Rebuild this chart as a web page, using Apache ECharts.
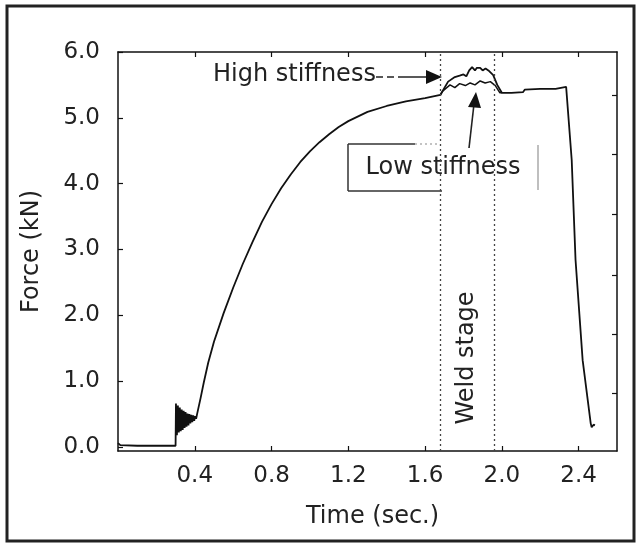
<!DOCTYPE html>
<html>
<head>
<meta charset="utf-8">
<script src="https://cdn.jsdelivr.net/npm/echarts@6/dist/echarts.min.js"></script>
<style>
html,body{margin:0;padding:0;background:#fff;}
#chart{width:637px;height:544px;}
</style>
</head>
<body>
<div id="chart"></div>
<script>
// ---- data ----
var time = [0, 0.005, 0.012, 0.1, 0.2, 0.3,
  0.302, 0.307, 0.312, 0.317, 0.322, 0.327, 0.332, 0.337, 0.342, 0.347, 0.352, 0.357, 0.362, 0.367, 0.372, 0.377, 0.382, 0.387, 0.392, 0.397, 0.402, 0.407, 0.412,
  0.43, 0.447, 0.47, 0.50, 0.55, 0.60, 0.65, 0.70, 0.75, 0.80, 0.85, 0.90, 0.95, 1.00, 1.05, 1.10, 1.15, 1.20, 1.30, 1.40, 1.50, 1.60, 1.68,
  1.69, 1.72, 1.755, 1.78, 1.80, 1.815, 1.83, 1.845, 1.86, 1.87, 1.887, 1.90, 1.915, 1.93, 1.955, 1.976, 2.00,
  2.05, 2.11, 2.12, 2.20, 2.28, 2.29, 2.335, 2.345, 2.364, 2.384, 2.421, 2.463, 2.468, 2.478, 2.485];
var forceHigh = [0.06, 0.08, 0.03, 0.02, 0.02, 0.02,
  0.66, 0.18, 0.63, 0.22, 0.60, 0.24, 0.57, 0.26, 0.55, 0.29, 0.53, 0.31, 0.51, 0.33, 0.50, 0.36, 0.49, 0.38, 0.48, 0.40, 0.47, 0.43, 0.50,
  0.74, 0.98, 1.28, 1.60, 2.03, 2.42, 2.78, 3.11, 3.42, 3.69, 3.93, 4.14, 4.33, 4.49, 4.63, 4.75, 4.86, 4.95, 5.09, 5.18, 5.25, 5.30, 5.35,
  5.38, 5.55, 5.62, 5.64, 5.66, 5.63, 5.72, 5.77, 5.72, 5.76, 5.76, 5.72, 5.75, 5.72, 5.65, 5.50, 5.38,
  5.38, 5.39, 5.43, 5.44, 5.44, 5.47, 5.47, 5.44, 4.36, 2.84, 1.32, 0.36, 0.30, 0.34, 0.33];
var lowTime  = [1.68, 1.69, 1.73, 1.755, 1.78, 1.81, 1.835, 1.86, 1.887, 1.913, 1.94, 1.966, 1.99, 2.00];
var forceLow = [5.35, 5.40, 5.50, 5.46, 5.52, 5.49, 5.53, 5.50, 5.56, 5.53, 5.55, 5.49, 5.38, 5.38];
var weldStage = [1.68, 1.955];
var xTicks = [0.4, 0.8, 1.2, 1.6, 2.0, 2.4];
var yTicks = [0, 1, 2, 3, 4, 5, 6];
var rightTicks = [0.82, 1.72, 2.61, 3.54, 4.45, 5.35];

function pairs(xs, ys){ return xs.map(function(x,i){ return [x, ys[i]]; }); }

var FONT = 'DejaVu Sans';
var chart = echarts.init(document.getElementById('chart'), null, {renderer:'canvas'});
var axisLine = {show:true, onZero:false, lineStyle:{color:'#111', width:1.5}};
var option = {
  animation:false,
  backgroundColor:'#fff',
  grid:{left:118, top:52, right:20, bottom:93},
  xAxis:[{
    type:'value', position:'bottom', min:0, max:2.6,
    axisLine:axisLine,
    axisTick:{show:true, inside:true, length:5, customValues:xTicks, lineStyle:{color:'#111', width:1.2}},
    axisLabel:{show:true, customValues:xTicks, margin:14, fontFamily:FONT, fontSize:23, color:'#222',
      formatter:function(v){ return v.toFixed(1); }},
    splitLine:{show:false},
    name:'Time (sec.)', nameLocation:'middle', nameGap:54,
    nameTextStyle:{fontFamily:FONT, fontSize:24, color:'#222', padding:[0,0,0,10]}
  },{
    type:'value', position:'top', min:0, max:2.6,
    axisLine:axisLine,
    axisTick:{show:true, inside:true, length:5, customValues:xTicks, lineStyle:{color:'#111', width:1.2}},
    axisLabel:{show:false}, splitLine:{show:false}
  }],
  yAxis:[{
    type:'value', position:'left', min:-0.06, max:6,
    axisLine:axisLine,
    axisTick:{show:true, inside:true, length:5, customValues:yTicks, lineStyle:{color:'#111', width:1.2}},
    axisLabel:{show:true, customValues:yTicks, margin:18, fontFamily:FONT, fontSize:23, color:'#222',
      padding:[5,0,0,0],
      formatter:function(v){ return v.toFixed(1); }},
    splitLine:{show:false},
    name:'Force (kN)', nameLocation:'middle', nameGap:74,
    nameTextStyle:{fontFamily:FONT, fontSize:24, color:'#222'}
  },{
    type:'value', position:'right', min:-0.06, max:6,
    axisLine:axisLine,
    axisTick:{show:true, inside:true, length:5, customValues:rightTicks, lineStyle:{color:'#111', width:1.2}},
    axisLabel:{show:false}, splitLine:{show:false}
  }],
  series:[{
    name:'High stiffness', type:'line', data:pairs(time, forceHigh),
    xAxisIndex:0, yAxisIndex:0, showSymbol:false, symbol:'none',
    lineStyle:{color:'#111', width:1.8},
    markLine:{
      silent:true, symbol:'none', label:{show:false},
      lineStyle:{color:'#444', width:1.3, type:[2,3]},
      data:weldStage.map(function(v){ return {xAxis:v}; })
    }
  },{
    name:'Low stiffness', type:'line', data:pairs(lowTime, forceLow),
    xAxisIndex:0, yAxisIndex:0, showSymbol:false, symbol:'none',
    lineStyle:{color:'#111', width:1.5}
  }],
  graphic:[
    {type:'rect', shape:{x:7, y:6, width:627, height:535}, style:{fill:'none', stroke:'#222', lineWidth:3}},
    {type:'text', x:213, y:75, style:{text:'High stiffness', font:'24px "DejaVu Sans"', fill:'#222', verticalAlign:'middle', align:'left'}},
    {type:'line', shape:{x1:376, y1:77, x2:400, y2:77}, style:{stroke:'#222', lineWidth:1.5, lineDash:[7,4]}},
    {type:'line', shape:{x1:400, y1:77, x2:428, y2:77}, style:{stroke:'#222', lineWidth:1.5}},
    {type:'polygon', shape:{points:[[426,70],[442,77],[426,84]]}, style:{fill:'#111'}},
    {type:'line', shape:{x1:348, y1:144, x2:348, y2:191}, style:{stroke:'#333', lineWidth:1.5}},
    {type:'line', shape:{x1:348, y1:144, x2:415, y2:144}, style:{stroke:'#333', lineWidth:1.5}},
    {type:'line', shape:{x1:415, y1:144, x2:440, y2:144}, style:{stroke:'#888', lineWidth:1.2, lineDash:[2,3]}},
    {type:'line', shape:{x1:348, y1:191, x2:442, y2:191}, style:{stroke:'#333', lineWidth:1.5}},
    {type:'line', shape:{x1:538, y1:145, x2:538, y2:190}, style:{stroke:'#aaa', lineWidth:1.5}},
    {type:'text', x:443, y:168, style:{text:'Low stiffness', font:'24px "DejaVu Sans"', fill:'#222', verticalAlign:'middle', align:'center'}},
    {type:'line', shape:{x1:469, y1:148, x2:474, y2:104}, style:{stroke:'#222', lineWidth:1.6}},
    {type:'polygon', shape:{points:[[468,107],[476,92],[481,108]]}, style:{fill:'#111'}},
    {type:'text', x:467, y:358, rotation:Math.PI/2, style:{text:'Weld stage', font:'24px "DejaVu Sans"', fill:'#222', verticalAlign:'middle', align:'center'}}
  ]
};
chart.setOption(option);
</script>
</body>
</html>
